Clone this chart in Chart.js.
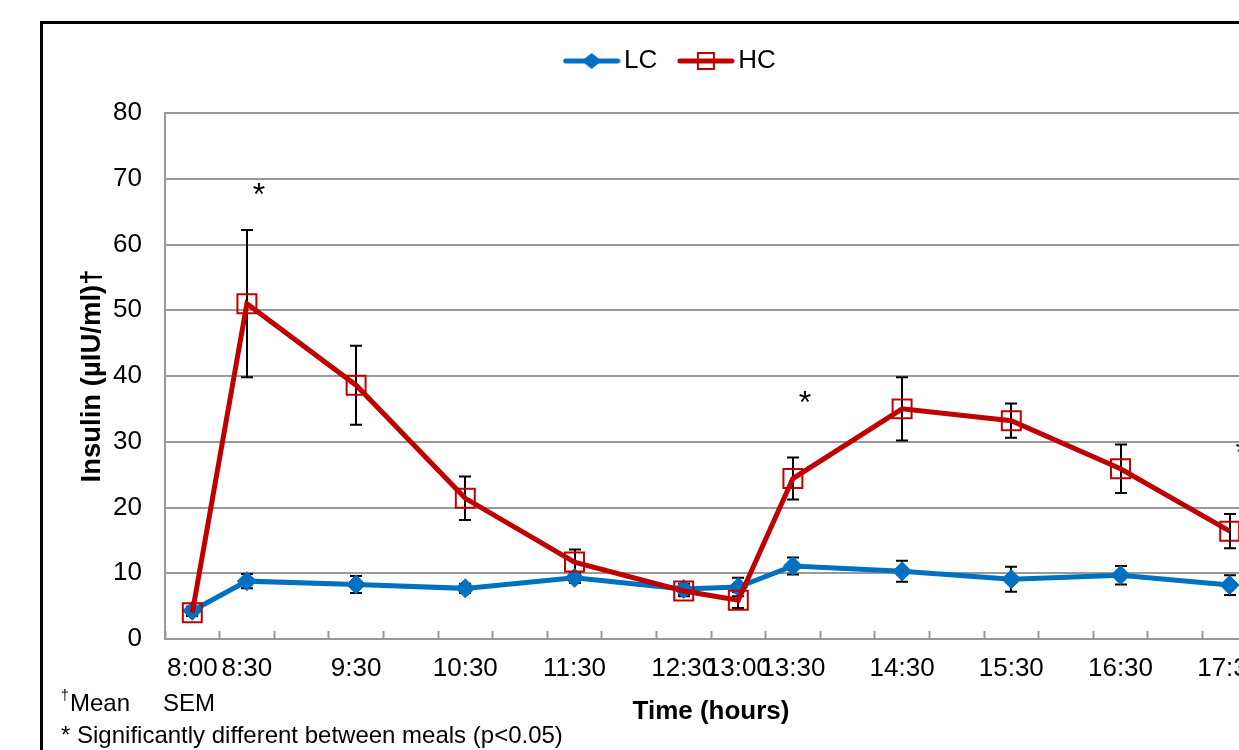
<!DOCTYPE html>
<html lang="en">
<head>
<meta charset="UTF-8">
<title>Insulin LC vs HC</title>
<script src="https://cdn.jsdelivr.net/npm/chart.js"></script>
<style>
  body { margin: 0; background: #fff; overflow: hidden; width: 1239px; height: 750px; }
  canvas { display: block; }
</style>
</head>
<body>
<canvas id="insulinChart" width="1320" height="750"></canvas>
<script>
// time of day in hours, and the label printed under each sample
const timeValues = [8, 8.5, 9.5, 10.5, 11.5, 12.5, 13, 13.5, 14.5, 15.5, 16.5, 17.5];
const timeLabels = ['8:00', '8:30', '9:30', '10:30', '11:30', '12:30', '13:00', '13:30', '14:30', '15:30', '16:30', '17:30'];

// insulin (µIU/ml), mean and SEM
const lcMean = [4.3, 8.8, 8.3, 7.7, 9.3, 7.6, 7.9, 11.1, 10.3, 9.1, 9.7, 8.2];
const lcSem  = [0.6, 1.1, 1.3, 0.7, 0.8, 0.8, 1.4, 1.3, 1.6, 1.9, 1.4, 1.5];
const hcMean = [4.0, 51.0, 38.6, 21.4, 11.7, 7.3, 5.9, 24.4, 35.0, 33.2, 25.9, 16.4];
const hcSem  = [0.5, 11.2, 6.0, 3.3, 1.9, 0.8, 1.2, 3.2, 4.8, 2.6, 3.7, 2.6];

// significance stars: time and height (µIU/ml)
const sigTimes  = [8.5, 13.5, 17.5];
const sigLevels = [68, 36.3, 28.7];

// x axis runs in half-hour slots, tick marks on slot edges
const xMin = 7.75, xMax = 17.75, xStep = 0.5;
const slotEdges = [];
for (let v = xMin; v <= xMax + 1e-9; v += xStep) slotEdges.push(v);
const allXTicks = slotEdges.concat(timeValues).sort((a, b) => a - b);

const FONT = '"Liberation Sans", Arial, sans-serif';
Chart.defaults.font.family = FONT;
Chart.defaults.color = '#000';

const BLUE = '#0070C0';
const RED = '#C00000';

function makeIcon(color, shape) {
    const c = document.createElement('canvas');
    c.width = 58; c.height = 22;
    const g = c.getContext('2d');
    g.strokeStyle = color;
    g.lineWidth = 5;
    g.lineCap = 'round';
    g.beginPath(); g.moveTo(3, 11); g.lineTo(55, 11); g.stroke();
    if (shape === 'diamond') {
        g.fillStyle = color;
        g.beginPath();
        g.moveTo(19, 11); g.lineTo(29, 3); g.lineTo(39, 11); g.lineTo(29, 19);
        g.closePath(); g.fill();
    } else {
        g.lineWidth = 2;
        g.strokeRect(21, 3, 16, 16);
    }
    return c;
}
const lcIcon = makeIcon(BLUE, 'diamond');
const hcIcon = makeIcon(RED, 'square');

const series = [
    { mean: lcMean, sem: lcSem },
    { mean: hcMean, sem: hcSem }
];

const errorBars = {
    id: 'errorBars',
    beforeDatasetsDraw(chart) {
        const { ctx, scales: { x, y } } = chart;
        ctx.save();
        ctx.strokeStyle = '#000';
        ctx.lineWidth = 2;
        series.forEach(s => {
            s.mean.forEach((m, i) => {
                const px = Math.round(x.getPixelForValue(timeValues[i]));
                const top = y.getPixelForValue(m + s.sem[i]);
                const bot = y.getPixelForValue(m - s.sem[i]);
                ctx.beginPath();
                ctx.moveTo(px, top); ctx.lineTo(px, bot);
                ctx.moveTo(px - 6, top); ctx.lineTo(px + 6, top);
                ctx.moveTo(px - 6, bot); ctx.lineTo(px + 6, bot);
                ctx.stroke();
            });
        });
        ctx.restore();
    }
};

const extras = {
    id: 'extras',
    afterDraw(chart) {
        const { ctx, scales: { x, y } } = chart;
        ctx.save();
        ctx.fillStyle = '#000';
        ctx.font = '32px ' + FONT;
        ctx.textAlign = 'center';
        ctx.textBaseline = 'alphabetic';
        sigTimes.forEach((t, i) => {
            ctx.fillText('*', x.getPixelForValue(t) + 12, y.getPixelForValue(sigLevels[i]) + 13);
        });

        ctx.textAlign = 'left';
        ctx.font = '14px ' + FONT;
        ctx.fillText('†', 61, 700);
        ctx.font = '24px ' + FONT;
        ctx.fillText('Mean', 70, 711);
        ctx.fillText('SEM', 163, 711);
        ctx.fillText('* Significantly different between meals (p<0.05)', 61, 743);

        // outer frame
        ctx.strokeStyle = '#000';
        ctx.lineWidth = 3;
        ctx.strokeRect(41.5, 22.5, 1400, 800);
        ctx.restore();
    }
};

new Chart(document.getElementById('insulinChart'), {
    type: 'line',
    data: {
        datasets: [{
            label: 'LC',
            data: timeValues.map((t, i) => ({ x: t, y: lcMean[i] })),
            borderColor: BLUE,
            backgroundColor: BLUE,
            borderWidth: 5,
            pointStyle: 'rectRot',
            pointRadius: 9.5,
            pointBorderWidth: 1,
            pointBackgroundColor: BLUE,
            pointBorderColor: BLUE,
            tension: 0,
            order: 1,
            clip: false,
            yAxisID: 'y'
        }, {
            label: 'HC',
            data: timeValues.map((t, i) => ({ x: t, y: hcMean[i] })),
            borderColor: RED,
            backgroundColor: 'rgba(0,0,0,0)',
            borderWidth: 5,
            pointStyle: 'rect',
            pointRadius: 13.4,
            pointBorderWidth: 2,
            pointBackgroundColor: 'rgba(0,0,0,0)',
            pointBorderColor: RED,
            tension: 0,
            order: 0,
            clip: false,
            yAxisID: 'y'
        }]
    },
    options: {
        responsive: false,
        animation: false,
        events: [],
        layout: { padding: { left: 41, right: 13, top: 19, bottom: 0 } },
        plugins: {
            legend: {
                position: 'top',
                labels: {
                    usePointStyle: true,
                    pointStyleWidth: 39,
                    padding: 29,
                    color: '#000',
                    font: { size: 26 },
                    generateLabels: () => [
                        { text: 'LC', pointStyle: lcIcon, datasetIndex: 0, lineWidth: 0, fillStyle: 'rgba(0,0,0,0)', strokeStyle: 'rgba(0,0,0,0)', fontColor: '#000', hidden: false },
                        { text: 'HC', pointStyle: hcIcon, datasetIndex: 1, lineWidth: 0, fillStyle: 'rgba(0,0,0,0)', strokeStyle: 'rgba(0,0,0,0)', fontColor: '#000', hidden: false }
                    ]
                }
            },
            // empty spacer between legend and plot
            subtitle: {
                display: true,
                text: '',
                weight: 500,
                font: { size: 10, lineHeight: 1 },
                padding: { top: 0, bottom: 19 }
            },
            tooltip: { enabled: false }
        },
        scales: {
            x: {
                type: 'linear',
                min: xMin,
                max: xMax,
                afterBuildTicks: s => { s.ticks = allXTicks.map(v => ({ value: v })); },
                afterFit: s => { s.height = 111; },
                ticks: {
                    autoSkip: false,
                    maxRotation: 0,
                    minRotation: 0,
                    padding: 22,
                    color: '#000',
                    font: { size: 26 },
                    callback: v => {
                        const i = timeValues.indexOf(v);
                        return i < 0 ? '' : timeLabels[i];
                    }
                },
                grid: {
                    drawOnChartArea: false,
                    tickLength: -8,
                    tickWidth: 2,
                    tickColor: c => (c.tick && slotEdges.includes(c.tick.value)) ? '#999' : 'rgba(0,0,0,0)'
                },
                border: { color: '#999', width: 2 },
                title: {
                    display: true,
                    text: 'Time (hours)',
                    color: '#000',
                    font: { size: 26, weight: 'bold' },
                    padding: { top: 0, bottom: 23 }
                }
            },
            y: {
                position: 'left',
                min: 0,
                max: 80,
                afterFit: s => { s.width = 124; },
                ticks: { stepSize: 10, padding: 23, color: '#000', font: { size: 26 } },
                grid: { color: '#999', lineWidth: 2, drawTicks: false },
                border: { color: '#999', width: 2 },
                title: {
                    display: true,
                    text: 'Insulin (µIU/ml)†',
                    color: '#000',
                    font: { size: 27.5, weight: 'bold' },
                    padding: { top: 35, bottom: 0 }
                }
            },
            y2: {
                position: 'right',
                display: true,
                afterFit: s => { s.width = 50; },
                grid: { display: false },
                ticks: { display: false },
                border: { display: false }
            }
        }
    },
    plugins: [errorBars, extras]
});
</script>
</body>
</html>
